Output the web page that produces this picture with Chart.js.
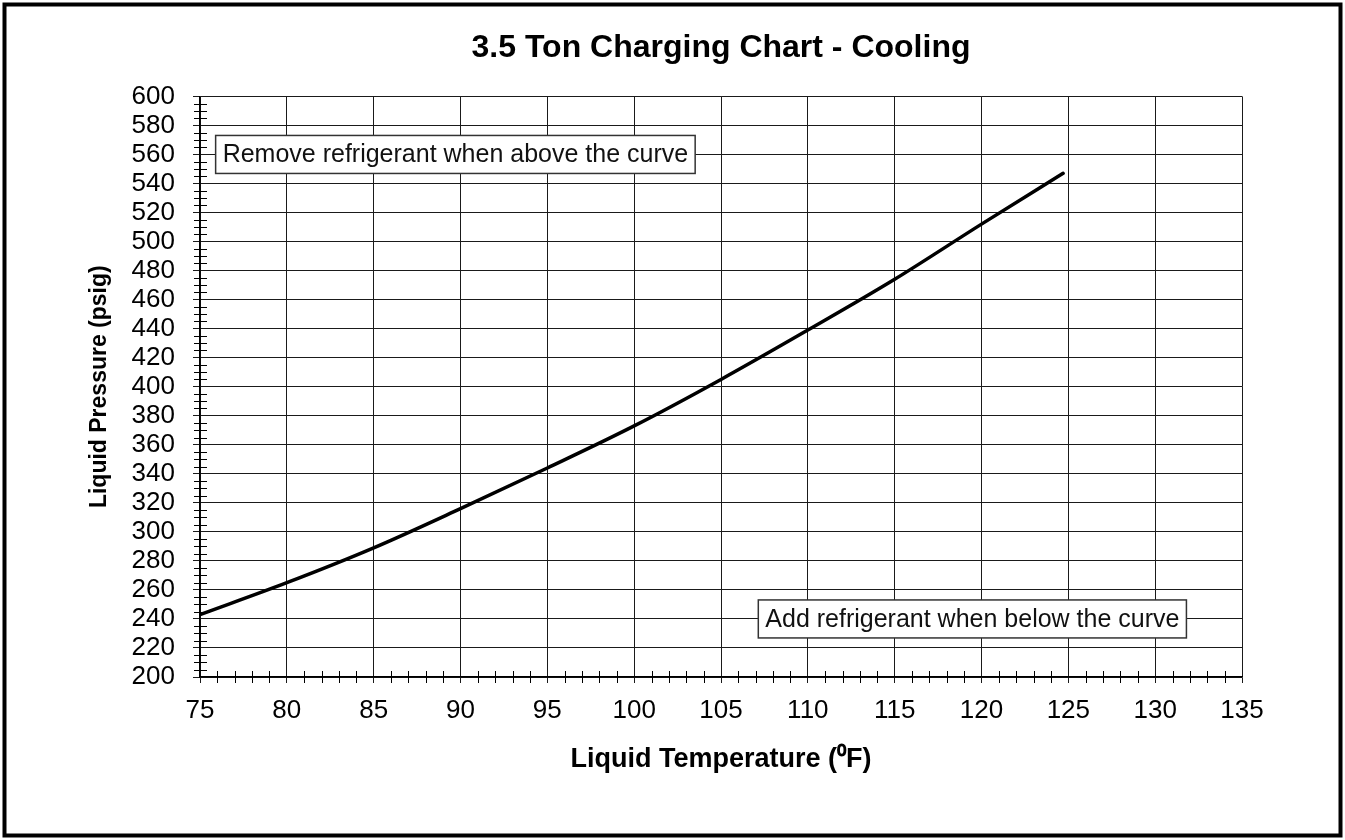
<!DOCTYPE html>
<html>
<head>
<meta charset="utf-8">
<title>3.5 Ton Charging Chart - Cooling</title>
<script src="https://cdn.jsdelivr.net/npm/chart.js@4.4.1/dist/chart.umd.min.js"></script>
<style>
    html, body { margin: 0; padding: 0; background: #fff; }
    #wrap { width: 1345px; height: 840px; position: relative; }
</style>
</head>
<body>
<div id="wrap"><canvas id="chargeChart"></canvas></div>
<script>
// data
const temps = [75, 80, 85, 90, 95, 100, 105, 110, 115, 120, 124.7];
const pressures = [243, 265, 289, 316, 344, 373, 405, 439, 474, 512, 547];

const xTicks = [75, 80, 85, 90, 95, 100, 105, 110, 115, 120, 125, 130, 135];
const yTicks = [200, 220, 240, 260, 280, 300, 320, 340, 360, 380, 400, 420, 440, 460, 480, 500, 520, 540, 560, 580, 600];

const notes = [
    { text: 'Remove refrigerant when above the curve', x: 75.9, y: 560, side: 'left' },
    { text: 'Add refrigerant when below the curve', x: 131.8, y: 240, side: 'right' }
];

const FONT = "'Liberation Sans', Arial, Helvetica, sans-serif";

// white page + black frame around everything
const framePlugin = {
    id: 'frame',
    beforeDraw(chart) {
        const ctx = chart.ctx;
        ctx.save();
        ctx.fillStyle = '#fff';
        ctx.fillRect(0, 0, chart.width, chart.height);
        ctx.restore();
    },
    afterDraw(chart) {
        const ctx = chart.ctx;
        ctx.save();
        ctx.strokeStyle = '#000';
        ctx.lineWidth = 4;
        ctx.strokeRect(4.5, 4.5, chart.width - 9, chart.height - 9);
        ctx.restore();
    }
};

// small ticks between the labelled ones
const minorTicks = {
    id: 'minorTicks',
    afterDatasetsDraw(chart) {
        const { ctx, scales: { x, y } } = chart;
        ctx.save();
        ctx.strokeStyle = '#000';
        ctx.lineWidth = 1;
        ctx.beginPath();
        for (let v = x.min + 1; v < x.max; v++) {
            if (v % 5 === 0) continue;
            const px = Math.round(x.getPixelForValue(v)) + 0.5;
            ctx.moveTo(px, y.bottom - 6);
            ctx.lineTo(px, y.bottom + 6);
        }
        for (let v = y.min + 5; v < y.max; v += 5) {
            if (v % 20 === 0) continue;
            const py = Math.round(y.getPixelForValue(v)) + 0.5;
            ctx.moveTo(x.left - 6, py);
            ctx.lineTo(x.left + 7, py);
        }
        ctx.stroke();
        ctx.restore();
    }
};

// the two boxed notes
const notesPlugin = {
    id: 'notes',
    afterDatasetsDraw(chart) {
        const { ctx, scales: { x, y } } = chart;
        ctx.save();
        ctx.font = '25px ' + FONT;
        notes.forEach(n => {
            const w = ctx.measureText(n.text).width + 14;
            const h = 38;
            const px = x.getPixelForValue(n.x);
            const py = y.getPixelForValue(n.y);
            const left = n.side === 'left' ? px : px - w;
            ctx.fillStyle = '#fff';
            ctx.fillRect(left, py - h / 2, w, h);
            ctx.strokeStyle = '#333';
            ctx.lineWidth = 1.5;
            ctx.strokeRect(left, py - h / 2, w, h);
            ctx.fillStyle = '#111';
            ctx.textAlign = 'left';
            ctx.textBaseline = 'middle';
            ctx.fillText(n.text, left + 7, py + 1);
        });
        ctx.restore();
    }
};

new Chart(document.getElementById('chargeChart'), {
    type: 'line',
    data: {
        datasets: [{
            label: 'Liquid Pressure',
            data: temps.map((t, i) => ({ x: t, y: pressures[i] })),
            borderColor: '#000',
            borderWidth: 3.5,
            borderCapStyle: 'round',
            pointRadius: 0,
            fill: false,
            cubicInterpolationMode: 'monotone'
        }]
    },
    options: {
        responsive: true,
        maintainAspectRatio: false,
        animation: false,
        devicePixelRatio: 1,
        layout: { padding: { left: 0, right: 103, top: 0, bottom: 0 } },
        plugins: {
            legend: { display: false },
            tooltip: { enabled: false },
            title: {
                display: true,
                fullSize: false,
                text: '3.5 Ton Charging Chart - Cooling',
                color: '#000',
                font: { family: FONT, size: 32, weight: 'bold' },
                padding: { top: 29, bottom: 29 }
            }
        },
        scales: {
            x: {
                type: 'linear',
                min: 75,
                max: 135,
                afterBuildTicks: s => { s.ticks = xTicks.map(v => ({ value: v })); },
                afterFit: s => { s.height = 163; },
                ticks: {
                    color: '#000',
                    padding: 12,
                    maxRotation: 0,
                    autoSkip: false,
                    font: { family: FONT, size: 26 }
                },
                grid: { color: '#1a1a1a', lineWidth: 1, tickLength: 6 },
                border: { color: '#000', width: 1.5 },
                title: {
                    display: true,
                    text: 'Liquid Temperature (\u2070F)',
                    color: '#000',
                    font: { family: FONT, size: 27, weight: 'bold' },
                    padding: { top: 0, bottom: 64 }
                }
            },
            y: {
                type: 'linear',
                min: 200,
                max: 600,
                afterBuildTicks: s => { s.ticks = yTicks.map(v => ({ value: v })); },
                afterFit: s => { s.width = 200; },
                ticks: {
                    color: '#000',
                    padding: 18,
                    autoSkip: false,
                    font: { family: FONT, size: 26 }
                },
                grid: { color: '#1a1a1a', lineWidth: 1, tickLength: 7 },
                border: { color: '#000', width: 1.5 },
                title: {
                    display: true,
                    text: 'Liquid Pressure (psig)',
                    color: '#000',
                    font: { family: FONT, size: 23, weight: 'bold' },
                    padding: { top: 86, bottom: 0 }
                }
            }
        }
    },
    plugins: [framePlugin, minorTicks, notesPlugin]
});
</script>
</body>
</html>
